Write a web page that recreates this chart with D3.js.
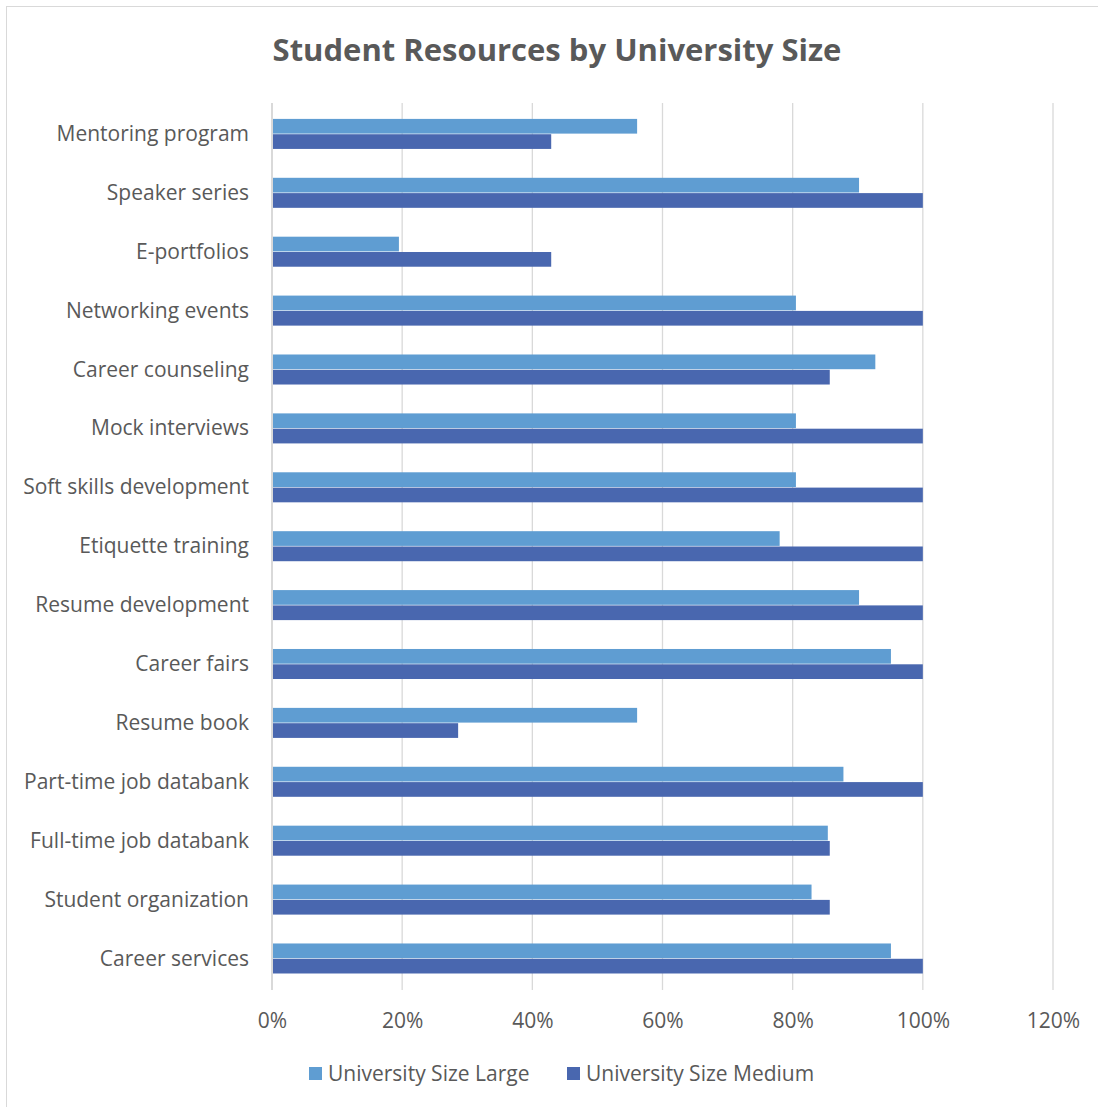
<!DOCTYPE html>
<html>
<head>
<meta charset="utf-8">
<script src="https://cdn.jsdelivr.net/npm/d3@7"></script>
<style>
  body { margin: 0; background: white; }
  svg { display: block; }
</style>
</head>
<body>
<script>
// categories top to bottom
const categories = [
    "Mentoring program", "Speaker series", "E-portfolios", "Networking events",
    "Career counseling", "Mock interviews", "Soft skills development",
    "Etiquette training", "Resume development", "Career fairs", "Resume book",
    "Part-time job databank", "Full-time job databank", "Student organization",
    "Career services"
]
const large = [0.561, 0.902, 0.195, 0.805, 0.927, 0.805, 0.805, 0.780, 0.902, 0.951, 0.561, 0.878, 0.854, 0.829, 0.951]
const medium = [0.429, 1.0, 0.429, 1.0, 0.857, 1.0, 1.0, 1.0, 1.0, 1.0, 0.286, 1.0, 0.857, 0.857, 1.0]
const seriesNames = ["University Size Large", "University Size Medium"]
const xTicks = [0, 0.2, 0.4, 0.6, 0.8, 1.0, 1.2]

const [width, height] = [1098, 1107]
const colors = {
    large: "#5f9dd2",
    medium: "#4967af",
    grid: "#d9d9d9",
    text: "#595959",
    border: "#d9d9d9"
}
const font = "'Open Sans', sans-serif"
const fontSize = 21

const svg = d3.select("body").append("svg")
    .attr("width", width)
    .attr("height", height)

// chart border
svg.append("rect")
    .attr("x", 6.5).attr("y", 6.5)
    .attr("width", width + 10).attr("height", height + 10)
    .attr("fill", "white")
    .attr("stroke", colors.border)

svg.append("text")
    .attr("x", 557).attr("y", 61)
    .attr("text-anchor", "middle")
    .attr("font-family", font)
    .attr("font-weight", "bold")
    .attr("font-size", 31)
    .attr("fill", colors.text)
    .text("Student Resources by University Size")

const margin = { left: 272, right: 1053, top: 103, bottom: 990 }

const x = d3.scaleLinear().domain([0, 1.2]).range([margin.left, margin.right])
const y = d3.scaleBand().domain(categories).range([margin.top, margin.bottom]).paddingInner(0.48).paddingOuter(0.27)
const ySub = d3.scaleBand().domain(seriesNames).range([0, y.bandwidth()])

// gridlines
svg.append("g")
    .selectAll("line")
    .data(xTicks)
    .join("line")
        .attr("x1", d => x(d)).attr("x2", d => x(d))
        .attr("y1", margin.top).attr("y2", margin.bottom)
        .attr("stroke", colors.grid)
        .attr("stroke-width", d => d === 0 ? 2 : 1.3)

// x axis tick labels
const xAxis = svg.append("g")
    .attr("transform", `translate(0, ${margin.bottom})`)
    .call(d3.axisBottom(x).tickValues(xTicks).tickFormat(d3.format(".0%")).tickSize(0).tickPadding(23))
xAxis.select(".domain").remove()
xAxis.selectAll("text")
    .attr("font-family", font)
    .attr("font-size", fontSize)
    .attr("fill", colors.text)

// category labels
const yAxis = svg.append("g")
    .attr("transform", `translate(${margin.left}, 0)`)
    .call(d3.axisLeft(y).tickSize(0).tickPadding(23))
yAxis.select(".domain").remove()
yAxis.selectAll("text")
    .attr("font-family", font)
    .attr("font-size", fontSize)
    .attr("fill", colors.text)

// bars
const rows = categories.map((c, i) => ({ cat: c, values: [large[i], medium[i]] }))
const groups = svg.append("g")
    .selectAll("g")
    .data(rows)
    .join("g")
        .attr("transform", d => `translate(0, ${y(d.cat)})`)
groups.selectAll("rect")
    .data(d => d.values.map((v, j) => ({ v, s: seriesNames[j] })))
    .join("rect")
        .attr("x", x(0) + 1)
        .attr("y", d => ySub(d.s))
        .attr("width", d => x(d.v) - x(0) - 1)
        .attr("height", ySub.bandwidth() - 0.6)
        .attr("fill", (d, j) => j === 0 ? colors.large : colors.medium)

// legend
const legendX = [309, 567]
const legend = svg.append("g")
    .selectAll("g")
    .data(seriesNames)
    .join("g")
        .attr("transform", (d, i) => `translate(${legendX[i]}, 1073)`)
legend.append("rect")
    .attr("x", 0).attr("y", -6)
    .attr("width", 13).attr("height", 13)
    .attr("fill", (d, i) => i === 0 ? colors.large : colors.medium)
legend.append("text")
    .attr("x", 19).attr("y", 8)
    .attr("font-family", font)
    .attr("font-size", fontSize)
    .attr("fill", colors.text)
    .text(d => d)
</script>
</body>
</html>
